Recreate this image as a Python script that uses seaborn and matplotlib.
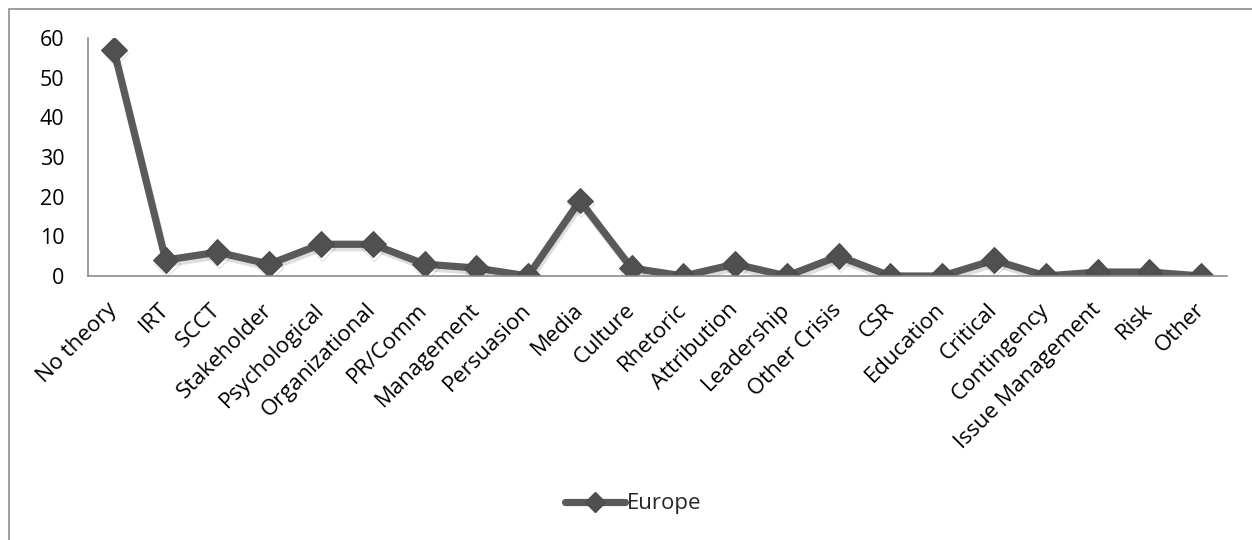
import matplotlib
matplotlib.use("Agg")
import matplotlib.pyplot as plt
import matplotlib.patheffects as pe
from matplotlib.lines import Line2D
from matplotlib.patches import Rectangle
import seaborn as sns
import pandas as pd

theories = ["No theory", "IRT", "SCCT", "Stakeholder", "Psychological",
            "Organizational", "PR/Comm", "Management", "Persuasion", "Media",
            "Culture", "Rhetoric", "Attribution", "Leadership", "Other Crisis",
            "CSR", "Education", "Critical", "Contingency", "Issue Management",
            "Risk", "Other"]
europe = [57, 4, 6, 3, 8, 8, 3, 2, 0, 19, 2, 0, 3, 0, 5, 0, 0, 4, 0, 1, 1, 0]
y_ticks = [0, 10, 20, 30, 40, 50, 60]
series_name = "Europe"

sns.set_theme(style="white")
plt.rcParams["font.family"] = ["Open Sans", "DejaVu Sans"]

df = pd.DataFrame({"theory": theories, "count": europe})

fig = plt.figure(figsize=(12.52, 5.4), dpi=100)
ax = fig.add_axes([88 / 1252, 1 - 276 / 540, (1227 - 88) / 1252, (276 - 38) / 540])

line_color = "#5a5a5a"
marker_color = "#505050"
shadow = [pe.SimpleLineShadow(offset=(1.0, -2.5), shadow_color="#000000", alpha=0.13),
          pe.Normal()]
sns.lineplot(data=df, x="theory", y="count", sort=False, ax=ax,
             color=line_color, linewidth=5.2, marker="D", markersize=13,
             markeredgecolor="#4a4a4a", markerfacecolor=marker_color,
             path_effects=shadow)

ax.set_xlim(-0.5, len(theories) - 0.5)
ax.set_ylim(0, 60)
ax.set_yticks(y_ticks)
ax.set_yticklabels([str(v) for v in y_ticks], fontsize=15.5, color="black")
ax.set_xticks(range(len(theories)))
ax.set_xticklabels(theories, rotation=45, ha="right", va="center",
                   rotation_mode="anchor", fontsize=16, color="black")
ax.tick_params(axis="x", length=0, pad=22)
ax.tick_params(axis="y", length=0, pad=17)
ax.set_xlabel("")
ax.set_ylabel("")
for side in ("top", "right"):
    ax.spines[side].set_visible(False)
for side in ("left", "bottom"):
    ax.spines[side].set_color("#8c8c8c")
    ax.spines[side].set_linewidth(1.2)
ax.grid(False)
ax.patch.set_alpha(0)

handle = Line2D([], [], color=line_color, linewidth=5.2, marker="D",
                markersize=10, markerfacecolor=marker_color,
                markeredgecolor="#4a4a4a", solid_capstyle="round")
fig.legend([handle], [series_name], loc="center", bbox_to_anchor=(633 / 1252, 1 - 504 / 540),
           frameon=False, fontsize=16, handlelength=2.7, handletextpad=0.1)

fig.patches.append(Rectangle((9 / 1252, -0.05), 1.2, 1 - 9 / 540 + 0.05,
                             transform=fig.transFigure, fill=False,
                             edgecolor="#8c8c8c", linewidth=1.2))

fig.savefig("out.png", dpi=100, facecolor="white")
